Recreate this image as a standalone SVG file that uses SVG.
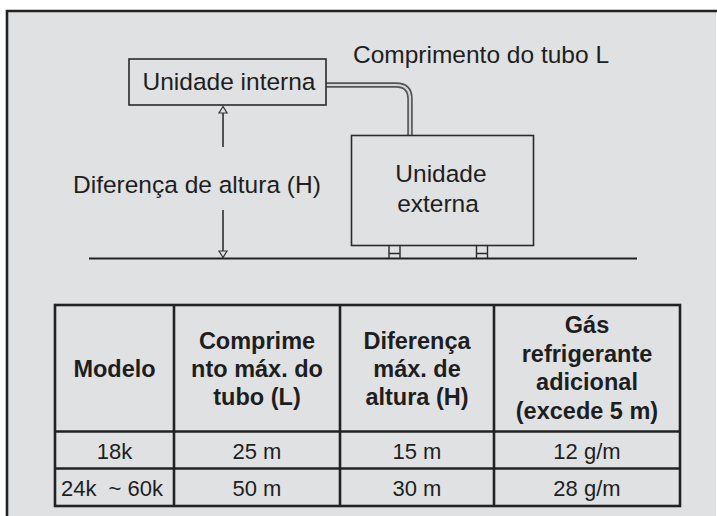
<svg xmlns="http://www.w3.org/2000/svg" width="717" height="516" viewBox="0 0 717 516">
<style>
.ln{stroke:#222;fill:none}
.box{fill:none;stroke:#2a2a2a;stroke-width:1.6}
.lbl{font-family:"Liberation Sans",Arial,sans-serif;font-size:24.5px;fill:#1e1e1e}
.mid{text-anchor:middle}
.hd{font-family:"Liberation Sans",Arial,sans-serif;font-size:23.5px;font-weight:bold;fill:#1e1e1e;text-anchor:middle}
.td{font-family:"Liberation Sans",Arial,sans-serif;font-size:22px;fill:#1e1e1e;text-anchor:middle}
.tb{stroke:#222;stroke-width:2.6;fill:none}
.ah{fill:#e0e1e3;stroke:#333;stroke-width:1.2}
</style>
<rect x="0" y="0" width="717" height="516" fill="#ffffff"/>
<rect x="7" y="11" width="709" height="505" fill="#e0e1e3"/>
<path class="ln" d="M7,516 V11 H717" stroke-width="2.6"/>

<g id="connectors">
  <path d="M326,85 H396 Q410,85 410,99 V135" fill="none" stroke="#555" stroke-width="5.5"/>
  <path d="M326,85 H396 Q410,85 410,99 V135" fill="none" stroke="#d4d5d7" stroke-width="2.2"/>
  <line class="ln" x1="223" y1="113" x2="223" y2="147" stroke-width="1.5"/>
  <polygon class="ah" points="223,106.5 219,113 227,113"/>
  <line class="ln" x1="223" y1="210" x2="223" y2="251" stroke-width="1.5"/>
  <polygon class="ah" points="223,257.5 219,251 227,251"/>
</g>

<g id="ground">
  <line class="ln" x1="89" y1="258.5" x2="637" y2="258.5" stroke-width="2"/>
</g>

<g id="indoor-unit">
  <rect class="box" x="129" y="59" width="197" height="46"/>
  <text class="lbl mid" x="229" y="90">Unidade interna</text>
</g>

<g id="pipe-label">
  <text class="lbl" x="353" y="62.5">Comprimento do tubo L</text>
</g>

<g id="height-label">
  <text class="lbl" x="73" y="192.5">Diferença de altura (H)</text>
</g>

<g id="outdoor-unit">
  <rect class="box" x="351.5" y="135.5" width="182" height="110"/>
  <text class="lbl mid" x="441" y="182">Unidade</text>
  <text class="lbl mid" x="438" y="211.5">externa</text>
  <g stroke="#2a2a2a" stroke-width="1.4" fill="none">
    <path d="M389,246 V258 M400,246 V258 M389,253.5 H400"/>
    <path d="M476.5,246 V258 M487.5,246 V258 M476.5,253.5 H487.5"/>
  </g>
</g>

<g id="table">
  <rect class="tb" x="55" y="305" width="625" height="201"/>
  <line class="tb" x1="55" y1="431.5" x2="680" y2="431.5"/>
  <line class="tb" x1="55" y1="468.5" x2="680" y2="468.5"/>
  <line class="tb" x1="174" y1="305" x2="174" y2="506"/>
  <line class="tb" x1="340" y1="305" x2="340" y2="506"/>
  <line class="tb" x1="494" y1="305" x2="494" y2="506"/>

  <text class="hd" x="114.5" y="377">Modelo</text>
  <text class="hd" x="257" y="348.5">Comprime</text>
  <text class="hd" x="257" y="377">nto máx. do</text>
  <text class="hd" x="257" y="405">tubo (L)</text>
  <text class="hd" x="417" y="348.5">Diferença</text>
  <text class="hd" x="417" y="377">máx. de</text>
  <text class="hd" x="417" y="405">altura (H)</text>
  <text class="hd" x="587" y="333">Gás</text>
  <text class="hd" x="587" y="361.5">refrigerante</text>
  <text class="hd" x="587" y="390">adicional</text>
  <text class="hd" x="587" y="418.5">(excede 5 m)</text>

  <text class="td" x="114.5" y="458.5">18k</text>
  <text class="td" x="257" y="458.5">25 m</text>
  <text class="td" x="417" y="458.5">15 m</text>
  <text class="td" x="587" y="458.5">12 g/m</text>
  <text class="td" x="112" y="495.5" xml:space="preserve">24k  ~ 60k</text>
  <text class="td" x="257" y="495.5">50 m</text>
  <text class="td" x="417" y="495.5">30 m</text>
  <text class="td" x="587" y="495.5">28 g/m</text>
</g>
</svg>
